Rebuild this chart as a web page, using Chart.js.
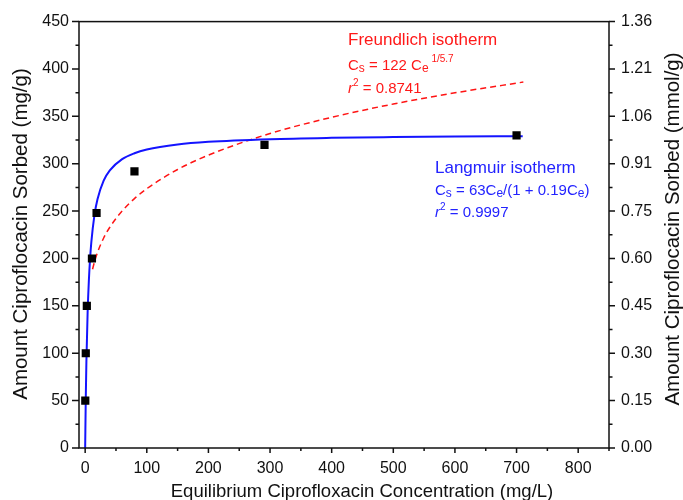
<!DOCTYPE html>
<html><head><meta charset="utf-8">
<script src="https://cdn.jsdelivr.net/npm/chart.js@4.4.0/dist/chart.umd.min.js"></script>
<style>html,body{margin:0;padding:0;background:#fff;}canvas{display:block;}</style>
</head><body>
<canvas id="c" width="683" height="500"></canvas>
<script>
// measured sorption data
const ceMeasured = [0.2, 1, 2.7, 11, 18.5, 80, 291, 700];
const csMeasured = [50, 100, 150, 200, 248, 292, 320, 330];
// Langmuir fit curve
const langmuirCe = [0, 1, 2, 4, 6, 8, 10, 15, 20, 30, 40, 60, 80, 100, 150, 200, 300, 400, 500, 600, 710];
const langmuirCs = [0, 52.9, 91.3, 143.2, 176.6, 200, 217.2, 245.5, 262.5, 282.1, 293, 304.8, 311.1, 315, 320.3, 323.1, 325.9, 327.3, 328.1, 328.7, 329.1];
// Freundlich fit curve
const freundCe = [12, 15, 20, 30, 40, 60, 80, 100, 150, 200, 300, 400, 500, 600, 711];
const freundCs = [188.7, 196.2, 206.4, 221.6, 233, 250.2, 263.2, 273.7, 293.9, 309.1, 331.9, 349, 363, 374.8, 386.2];
// axes
const xTickValues = [0, 100, 200, 300, 400, 500, 600, 700, 800];
const xMinorTicks = [50, 150, 250, 350, 450, 550, 650, 750, 850];
const yTickValues = [0, 50, 100, 150, 200, 250, 300, 350, 400, 450];
const yMinorTicks = [25, 75, 125, 175, 225, 275, 325, 375, 425];
const rightTickLabels = ['0.00', '0.15', '0.30', '0.45', '0.60', '0.75', '0.91', '1.06', '1.21', '1.36'];

const FONT = '"Liberation Sans", Arial, sans-serif';
const RED = 'rgb(255,25,25)';
const BLUE = 'rgb(35,35,255)';

function pts(xs, ys) { return xs.map((v, i) => ({x: v, y: ys[i]})); }

function drawRuns(ctx, x, y, runs, color) {
  ctx.fillStyle = color;
  ctx.textBaseline = 'alphabetic';
  ctx.textAlign = 'left';
  let cx = x;
  runs.forEach(r => {
    ctx.font = (r.italic ? 'italic ' : '') + r.size + 'px ' + FONT;
    ctx.fillText(r.t, cx, y + (r.dy || 0));
    cx += ctx.measureText(r.t).width;
  });
}

const framePlugin = {
  id: 'frame',
  afterDraw(chart) {
    const {ctx, chartArea: a, scales: {x, y}} = chart;
    ctx.save();
    ctx.strokeStyle = '#111';
    ctx.lineWidth = 1.5;
    ctx.strokeRect(a.left, a.top, a.right - a.left, a.bottom - a.top);
    ctx.beginPath();
    yTickValues.forEach(v => {
      const p = y.getPixelForValue(v);
      ctx.moveTo(a.left, p); ctx.lineTo(a.left - 7, p);
      ctx.moveTo(a.right, p); ctx.lineTo(a.right + 6, p);
    });
    yMinorTicks.forEach(v => {
      const p = y.getPixelForValue(v);
      ctx.moveTo(a.left, p); ctx.lineTo(a.left - 3.5, p);
      ctx.moveTo(a.right, p); ctx.lineTo(a.right + 3.5, p);
    });
    xTickValues.forEach(v => {
      const p = x.getPixelForValue(v);
      ctx.moveTo(p, a.bottom); ctx.lineTo(p, a.bottom + 5);
    });
    xMinorTicks.forEach(v => {
      const p = x.getPixelForValue(v);
      ctx.moveTo(p, a.bottom); ctx.lineTo(p, a.bottom + 3);
    });
    ctx.stroke();

    // axis titles
    ctx.fillStyle = '#111';
    ctx.font = '18.5px ' + FONT;
    ctx.textAlign = 'center';
    ctx.textBaseline = 'alphabetic';
    ctx.fillText('Equilibrium Ciprofloxacin Concentration (mg/L)', 362, 497);
    ctx.font = '20.5px ' + FONT;
    ctx.save();
    ctx.translate(27, 234);
    ctx.rotate(-Math.PI / 2);
    ctx.fillText('Amount Ciproflocacin Sorbed (mg/g)', 0, 0);
    ctx.restore();
    ctx.save();
    ctx.translate(679, 229);
    ctx.rotate(-Math.PI / 2);
    ctx.fillText('Amount Ciproflocacin Sorbed (mmol/g)', 0, 0);
    ctx.restore();

    // annotations
    drawRuns(ctx, 348, 45, [{t: 'Freundlich isotherm', size: 17}], RED);
    drawRuns(ctx, 348, 70, [
      {t: 'C', size: 15}, {t: 's', size: 12, dy: 1.5}, {t: ' = 122 C', size: 15},
      {t: 'e', size: 12, dy: 1.5}, {t: ' 1/5.7', size: 10, dy: -8}], RED);
    drawRuns(ctx, 348, 93, [
      {t: 'r', size: 15, italic: true}, {t: '2', size: 10, dy: -7}, {t: ' = 0.8741', size: 15}], RED);

    drawRuns(ctx, 435, 173, [{t: 'Langmuir isotherm', size: 17}], BLUE);
    drawRuns(ctx, 435, 195, [
      {t: 'C', size: 15}, {t: 's', size: 12, dy: 1.5}, {t: ' = 63C', size: 15},
      {t: 'e', size: 12, dy: 1.5}, {t: '/(1 + 0.19C', size: 15},
      {t: 'e', size: 12, dy: 1.5}, {t: ')', size: 15}], BLUE);
    drawRuns(ctx, 435, 217, [
      {t: 'r', size: 15, italic: true}, {t: '2', size: 10, dy: -7}, {t: ' = 0.9997', size: 15}], BLUE);
    ctx.restore();
  }
};

new Chart(document.getElementById('c'), {
  type: 'line',
  data: {
    datasets: [
      {
        label: 'Measured',
        data: pts(ceMeasured, csMeasured),
        showLine: false,
        pointStyle: 'rect',
        pointRadius: 5.8,
        backgroundColor: '#000',
        borderColor: '#000',
        borderWidth: 0,
        yAxisID: 'y'
      },
      {
        label: 'Langmuir',
        data: pts(langmuirCe, langmuirCs),
        borderColor: 'rgb(20,20,255)',
        borderWidth: 2,
        pointRadius: 0,
        cubicInterpolationMode: 'monotone',
        fill: false,
        yAxisID: 'y'
      },
      {
        label: 'Freundlich',
        data: pts(freundCe, freundCs),
        borderColor: 'rgb(255,20,20)',
        borderWidth: 1.5,
        borderDash: [6, 4],
        pointRadius: 0,
        cubicInterpolationMode: 'monotone',
        fill: false,
        yAxisID: 'y'
      }
    ]
  },
  options: {
    responsive: false,
    animation: false,
    devicePixelRatio: 1,
    layout: {padding: {top: 20, left: 0, right: 0, bottom: 0}},
    plugins: {legend: {display: false}, tooltip: {enabled: false}},
    scales: {
      x: {
        type: 'linear', position: 'bottom', min: -10, max: 850,
        afterBuildTicks: s => { s.ticks = xTickValues.map(v => ({value: v})); },
        afterFit: s => { s.height = 52; },
        grid: {display: false, drawTicks: false},
        border: {display: false},
        ticks: {font: {family: FONT, size: 16}, color: '#111', padding: 11, maxRotation: 0, autoSkip: false}
      },
      y: {
        type: 'linear', position: 'left', min: 0, max: 450,
        afterBuildTicks: s => { s.ticks = yTickValues.map(v => ({value: v})); },
        afterFit: s => { s.width = 79; },
        grid: {display: false, drawTicks: false},
        border: {display: false},
        ticks: {font: {family: FONT, size: 16}, color: '#111', padding: 10, autoSkip: false}
      },
      y2: {
        type: 'linear', position: 'right', min: 0, max: 450,
        afterBuildTicks: s => { s.ticks = yTickValues.map(v => ({value: v})); },
        afterFit: s => { s.width = 74; },
        grid: {display: false, drawTicks: false},
        border: {display: false},
        ticks: {font: {family: FONT, size: 16}, color: '#111', padding: 12, autoSkip: false,
          callback: (v, i) => rightTickLabels[i]}
      }
    }
  },
  plugins: [framePlugin]
});
</script>
</body></html>
